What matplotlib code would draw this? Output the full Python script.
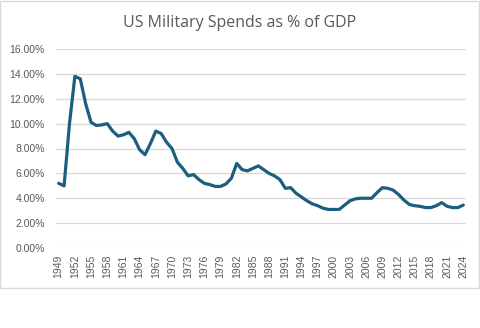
import matplotlib
matplotlib.use("Agg")
import matplotlib.pyplot as plt
import numpy as np
from matplotlib.patches import Rectangle
from matplotlib.ticker import PercentFormatter

years = np.arange(1949, 2025)
spend_pct = [
    5.2, 5.0, 10.0, 13.8, 13.6, 11.6, 10.1, 9.85, 9.9, 10.0,      # 1949-1958
    9.4, 9.0, 9.1, 9.3, 8.8, 7.9, 7.5, 8.4, 9.4, 9.2,             # 1959-1968
    8.5, 8.0, 6.9, 6.4, 5.8, 5.9, 5.5, 5.2, 5.1, 4.95,            # 1969-1978
    4.95, 5.15, 5.6, 6.8, 6.3, 6.2, 6.4, 6.6, 6.3, 6.0,           # 1979-1988
    5.8, 5.5, 4.8, 4.85, 4.4, 4.1, 3.8, 3.55, 3.4, 3.2,           # 1989-1998
    3.1, 3.1, 3.1, 3.45, 3.8, 3.95, 4.0, 4.0, 4.0, 4.45,          # 1999-2008
    4.85, 4.8, 4.65, 4.3, 3.85, 3.5, 3.4, 3.35, 3.25, 3.25,       # 2009-2018
    3.4, 3.65, 3.35, 3.25, 3.25, 3.45,                            # 2019-2024
]
tick_years = np.arange(1949, 2025, 3)

grey = "#595959"
line_color = "#1B5E80"

fig = plt.figure(figsize=(4.8, 3.28), dpi=100)
fig.patch.set_facecolor("white")

# chart frame (does not cover the bottom strip)
fig.add_artist(Rectangle((0.001, 40 / 328), 0.997, 1 - 40 / 328 - 0.002,
                         transform=fig.transFigure, fill=False,
                         edgecolor="#D9D9D9", linewidth=1.0))

ax = fig.add_axes([56 / 480, 80 / 328, 410 / 480, 199 / 328])
ax.plot(years, np.array(spend_pct) / 100, color=line_color, linewidth=2.3,
        solid_joinstyle="round", solid_capstyle="round")

ax.set_xlim(1948.5, 2024.5)
ax.set_ylim(0, 0.16)
ax.set_yticks(np.arange(0, 0.161, 0.02))
ax.yaxis.set_major_formatter(PercentFormatter(1.0, decimals=2))
ax.set_xticks(tick_years)
ax.set_xticklabels([str(y) for y in tick_years], rotation=90)

ax.grid(axis="y", color="#D9D9D9", linewidth=0.9)
ax.set_axisbelow(True)
for s in ax.spines.values():
    s.set_visible(False)
ax.tick_params(length=0, labelsize=7.5, labelcolor=grey)
ax.tick_params(axis="x", pad=5)
ax.tick_params(axis="y", pad=8)
for lbl in ax.get_xticklabels() + ax.get_yticklabels():
    lbl.set_fontfamily("Liberation Sans")

fig.text(0.5, 1 - 23 / 328, "US Military Spends as % of GDP", ha="center",
         va="center", fontsize=11.5, color=grey, family="Open Sans")

fig.savefig("out.png", dpi=100)
